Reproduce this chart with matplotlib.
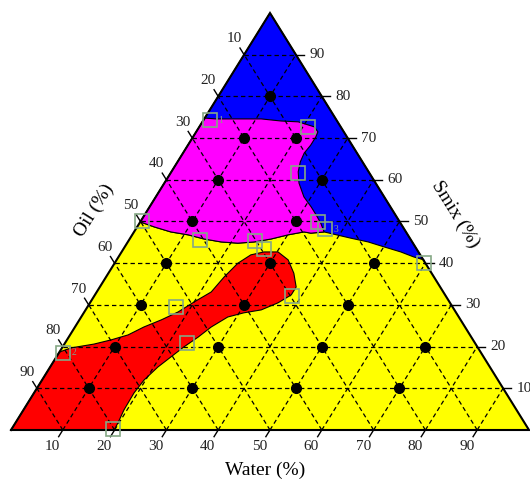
import matplotlib
matplotlib.use("Agg")
import matplotlib.pyplot as plt
from matplotlib.transforms import Affine2D
import numpy as np

# compositions in %, given as (water, smix); oil = 100 - water - smix
point_water = [10, 10, 20, 10, 30, 10, 30, 10, 30, 50, 10, 30, 50, 10, 30, 50, 70, 10, 30, 50, 70]
point_smix = [80, 70, 70, 60, 60, 50, 50, 40, 40, 40, 30, 30, 30, 20, 20, 20, 20, 10, 10, 10, 10]

square_water = [1.2, 21.0, 24.6, 0.3, 13.7, 24.4, 27.1, 34.3, 36.5, 59.7, 17.1, 38.2, 23.5, 0.8, 19.6]
square_smix = [74.3, 72.7, 61.6, 50.1, 45.6, 45.3, 43.4, 49.9, 48.2, 40.0, 29.5, 32.1, 20.9, 18.5, 0.2]
square_tags = {0: "1", 13: "2", 8: "3"}

# magenta region outline
magenta_water = [0, 2.3, 11.0, 15.1, 18.5, 22.2, 23.5, 23.7, 23.7, 23.4, 23.7, 24.5, 26.0, 28.6,
                 31.2, 33.1, 35.0, 36.7, 34.3, 32.8, 30.1, 27.3, 24.4, 21.4, 18.0, 14.4, 10.8,
                 7.1, 3.3, 0]
magenta_smix = [74.8, 74.6, 74.6, 74.1, 73.9, 72.7, 71.5, 70.3, 68.3, 66.4, 64.3, 61.9, 59.2, 55.9,
                53.5, 51.6, 49.6, 47.5, 47.2, 47.5, 46.8, 45.8, 45.1, 44.8, 45.1, 45.8, 46.8,
                47.5, 48.7, 49.9]

# blue / yellow border, from the magenta corner to the Smix side
blue_water = [36.7, 42.6, 46.4, 50.1, 53.9, 57.0, 59.3, 59.5]
blue_smix = [47.5, 46.0, 45.1, 43.9, 42.7, 41.5, 40.8, 40.5]

# red region outline
red_water = [0, 1.8, 5.7, 8.5, 11.2, 13.3, 15.8, 18.1, 20.0, 22.1, 22.8, 23.8, 25.3, 27.5, 30.2,
             33.1, 35.8, 37.9, 37.9, 36.3, 33.9, 30.9, 28.3, 26.3, 25.0, 23.4, 22.1, 20.8, 19.7,
             19.3, 19.4, 19.8, 19.9, 0]
red_smix = [18.7, 19.7, 20.6, 21.6, 22.8, 24.7, 26.4, 28.3, 30.7, 33.1, 36.7, 40.0, 42.0, 42.7, 42.7,
            40.8, 37.6, 34.3, 32.4, 30.5, 28.8, 28.1, 27.1, 24.7, 22.3, 19.9, 17.5, 15.1, 12.0,
            8.9, 4.8, 1.7, 0, 0]

ticks = [10, 20, 30, 40, 50, 60, 70, 80, 90]

plt.rcParams['font.family'] = ['Liberation Serif', 'DejaVu Serif']

fig = plt.figure(figsize=(5.30, 4.82), dpi=100)
ax = fig.add_axes([11 / 530, 52 / 482, 518 / 530, 417 / 482])
ax.set_xlim(0, 100)
ax.set_ylim(0, 100)
ax.axis('off')

# (water, smix) -> cartesian
tern = Affine2D(np.array([[1.0, 0.5, 0.0], [0.0, 1.0, 0.0], [0.0, 0.0, 1.0]])) + ax.transData

ax.fill([0, 100, 0], [0, 0, 100], color='#ffff00', transform=tern, zorder=1)

upper_w = [0, 0] + magenta_water[-1:17:-1] + blue_water
upper_s = [100, magenta_smix[-1]] + magenta_smix[-1:17:-1] + blue_smix
ax.fill(upper_w, upper_s, facecolor='#0000ff', edgecolor='black', lw=0.8, transform=tern, zorder=2)
ax.fill(magenta_water, magenta_smix, facecolor='#ff00ff', edgecolor='black', lw=0.8,
        transform=tern, zorder=3)
ax.fill(red_water, red_smix, facecolor='#ff0000', edgecolor='black', lw=0.8, transform=tern, zorder=4)

# dashed grid
for t in ticks:
    ax.plot([0, 100 - t], [t, t], color='black', lw=0.9, dashes=(3.5, 2.5), transform=tern, zorder=5)
    ax.plot([t, t], [0, 100 - t], color='black', lw=0.9, dashes=(3.5, 2.5), transform=tern, zorder=5)
    ax.plot([t, 0], [0, t], color='black', lw=0.9, dashes=(3.5, 2.5), transform=tern, zorder=5)

ax.plot([0, 100, 0, 0], [0, 0, 100, 0], color='black', lw=1.5, transform=tern, zorder=6,
        clip_on=False, solid_joinstyle='miter')

# ticks and tick labels
L = 1.6
for t in ticks:
    # water (bottom)
    ax.plot([t, t], [0, -L], color='black', lw=1, transform=tern, clip_on=False)
    ax.text(t, -4.0, str(t), transform=tern, ha='center', va='center', fontsize=11, color='#222222')
    # oil (left)
    s = 100 - t
    ax.plot([0, -L], [s, s + L], color='black', lw=1, transform=tern, clip_on=False)
    ax.text(-3.8, s + 3.8, str(t), transform=tern, ha='center', va='center', fontsize=11, color='#222222')
    # smix (right)
    ax.plot([100 - t, 100 - t + L], [t, t], color='black', lw=1, transform=tern, clip_on=False)
    ax.text(100 - t + 2.6, t, str(t), transform=tern, ha='left', va='center', fontsize=11, color='#222222')

ax.plot(point_water, point_smix, 'o', color='black', ms=7, transform=tern, zorder=7)
ax.plot(square_water, square_smix, 's', mfc='none', mec='#85a885', mew=1.2, ms=10,
        transform=tern, zorder=8, clip_on=False)
for i, tag in square_tags.items():
    ax.annotate(tag, (square_water[i], square_smix[i]), xycoords=tern, xytext=(6, 0),
                textcoords='offset points', fontsize=7, color='#8a9a8a', va='center', zorder=8)

fig.text(265 / 530, 1 - 470 / 482, 'Water (%)', ha='center', va='center', fontsize=14)
fig.text(94 / 530, 1 - 210 / 482, 'Oil (%)', ha='center', va='center', fontsize=14, rotation=58)
fig.text(455 / 530, 1 - 214 / 482, 'Smix (%)', ha='center', va='center', fontsize=14, rotation=-58)

fig.savefig('out.png', dpi=100)
